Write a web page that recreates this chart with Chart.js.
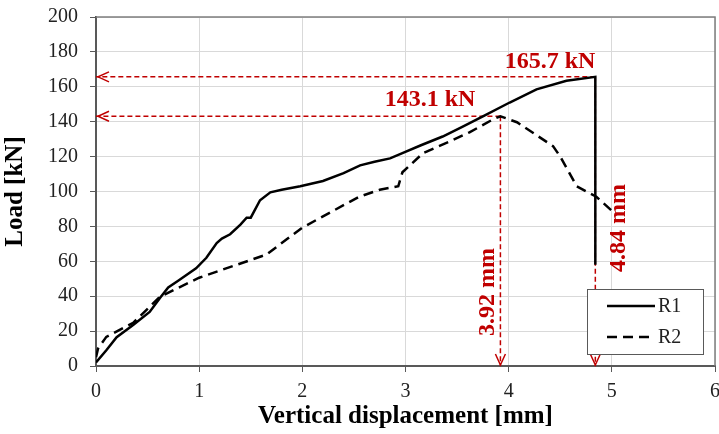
<!DOCTYPE html>
<html>
<head>
<meta charset="utf-8">
<script src="https://cdn.jsdelivr.net/npm/chart.js@4/dist/chart.umd.min.js"></script>
<style>
  html, body { margin: 0; padding: 0; background: #fff; }
  canvas { display: block; }
</style>
</head>
<body>
<canvas id="loadChart" width="719" height="434"></canvas>
<script>
// R1 curve (solid)
const r1X = [0, 0.1, 0.2, 0.36, 0.52, 0.62, 0.7, 0.8, 0.97, 1.07, 1.17, 1.22, 1.3, 1.4, 1.46, 1.5, 1.59, 1.69, 1.8, 1.98, 2.2, 2.4, 2.56, 2.7, 2.85, 2.97, 3.15, 3.36, 3.55, 3.75, 4.01, 4.27, 4.56, 4.84, 4.84];
const r1Y = [2, 9, 16.5, 23.5, 31, 39, 45, 49, 56, 62, 70.5, 73, 75.5, 81, 85, 85, 95, 99.5, 101, 103, 106, 110.5, 115, 117, 119, 122, 126.5, 131.5, 137, 143, 151, 158.5, 163.5, 165.7, 58];

// R2 curve (dashed)
const r2X = [0, 0.02, 0.1, 0.36, 0.62, 1.0, 1.65, 2.0, 2.55, 2.75, 2.93, 2.97, 3.17, 3.43, 3.62, 3.85, 3.92, 4.08, 4.43, 4.5, 4.66, 4.85, 5.0];
const r2Y = [5, 10, 16.7, 24.7, 39.7, 50.6, 63.8, 79.3, 97, 101, 103, 111, 122, 128.7, 133.9, 141.4, 143.1, 139.7, 126, 120, 103, 97, 89];

// peak annotations
const peakX = [3.92, 4.84];
const peakY = [143.1, 165.7];
const peakLoadLabels = ["143.1 kN", "165.7 kN"];
const peakDispLabels = ["3.92 mm", "4.84 mm"];

const xTicks = [0, 1, 2, 3, 4, 5, 6];
const yTicks = [0, 20, 40, 60, 80, 100, 120, 140, 160, 180, 200];

const FONT = '"Liberation Serif", "Times New Roman", serif';
const RED = "#c00000";

const toPoints = (xs, ys) => xs.map((x, i) => ({ x: x, y: ys[i] }));

// red dashed guide lines: horizontal to the y axis, vertical to the x axis
const guideSets = [];
peakX.forEach((px, i) => {
  guideSets.push({
    data: [{ x: px, y: peakY[i] }, { x: 0, y: peakY[i] }],
    borderColor: RED, borderWidth: 1.5, borderDash: [5, 3],
    pointRadius: 0, showLine: true, order: 5
  });
  guideSets.push({
    data: [{ x: px, y: peakY[i] }, { x: px, y: 0 }],
    borderColor: RED, borderWidth: 1.5, borderDash: [5, 3],
    pointRadius: 0, showLine: true, order: 5
  });
});

// arrows, labels, plot frame and legend
const annotate = {
  id: "annotate",
  afterDatasetsDraw(chart) {
    const ctx = chart.ctx;
    const xs = chart.scales.x, ys = chart.scales.y;
    const area = chart.chartArea;
    ctx.save();

    // frame top / right
    ctx.strokeStyle = "#7f7f7f";
    ctx.lineWidth = 1.5;
    ctx.beginPath();
    ctx.moveTo(area.left, area.top);
    ctx.lineTo(area.right, area.top);
    ctx.lineTo(area.right, area.bottom);
    ctx.stroke();

    // arrowheads
    ctx.strokeStyle = RED;
    ctx.lineWidth = 1.5;
    peakX.forEach((px, i) => {
      const x0 = xs.getPixelForValue(0) + 2;
      const yy = ys.getPixelForValue(peakY[i]);
      ctx.beginPath();
      ctx.moveTo(x0 + 11, yy - 5);
      ctx.lineTo(x0, yy);
      ctx.lineTo(x0 + 11, yy + 5);
      ctx.stroke();

      const xx = xs.getPixelForValue(px);
      const y0 = ys.getPixelForValue(0) - 1;
      ctx.beginPath();
      ctx.moveTo(xx - 5, y0 - 11);
      ctx.lineTo(xx, y0);
      ctx.lineTo(xx + 5, y0 - 11);
      ctx.stroke();
    });

    // labels
    ctx.fillStyle = RED;
    ctx.font = "bold 24px " + FONT;
    ctx.textBaseline = "alphabetic";
    ctx.textAlign = "right";
    const loadOffsets = [[-25, -10], [0, -9]];
    peakX.forEach((px, i) => {
      const xx = xs.getPixelForValue(px);
      const yy = ys.getPixelForValue(peakY[i]);
      ctx.fillText(peakLoadLabels[i], xx + loadOffsets[i][0], yy + loadOffsets[i][1]);
    });

    const dispCenters = [[-14, 292], [22, 228]];
    ctx.textAlign = "center";
    ctx.textBaseline = "middle";
    peakX.forEach((px, i) => {
      const xx = xs.getPixelForValue(px) + dispCenters[i][0];
      ctx.save();
      ctx.translate(xx, dispCenters[i][1]);
      ctx.rotate(-Math.PI / 2);
      ctx.fillText(peakDispLabels[i], 0, 1);
      ctx.restore();
    });

    // legend box
    ctx.fillStyle = "#fff";
    ctx.fillRect(587, 289, 116, 65);
    ctx.strokeStyle = "#595959";
    ctx.lineWidth = 1;
    ctx.strokeRect(587.5, 289.5, 116, 65);
    const entries = chart.data.datasets.slice(0, 2);
    entries.forEach((ds, i) => {
      const ly = 306 + i * 31;
      ctx.strokeStyle = "#000";
      ctx.lineWidth = 2.5;
      ctx.setLineDash(ds.borderDash || []);
      ctx.beginPath();
      ctx.moveTo(607, ly);
      ctx.lineTo(655, ly);
      ctx.stroke();
      ctx.setLineDash([]);
      ctx.fillStyle = "#222";
      ctx.font = "20px " + FONT;
      ctx.textAlign = "left";
      ctx.textBaseline = "middle";
      ctx.fillText(ds.label, 658, ly + 1);
    });

    ctx.restore();
  }
};

new Chart(document.getElementById("loadChart"), {
  type: "scatter",
  data: {
    datasets: [
      {
        label: "R1",
        data: toPoints(r1X, r1Y),
        borderColor: "#000", borderWidth: 2.5,
        pointRadius: 0, showLine: true, order: 1
      },
      {
        label: "R2",
        data: toPoints(r2X, r2Y),
        borderColor: "#000", borderWidth: 2.5, borderDash: [10, 6],
        pointRadius: 0, showLine: true, order: 2
      },
      ...guideSets
    ]
  },
  options: {
    responsive: false,
    devicePixelRatio: 1,
    animation: false,
    layout: { padding: { top: 17, right: 4, left: 0, bottom: 0 } },
    plugins: {
      legend: { display: false },
      tooltip: { enabled: false }
    },
    scales: {
      x: {
        type: "linear",
        min: 0, max: 6,
        afterFit: s => { s.height = 68; s.paddingLeft = 0; s.paddingRight = 0; },
        afterBuildTicks: s => { s.ticks = xTicks.map(v => ({ value: v })); },
        grid: { color: "#d9d9d9", lineWidth: 1, tickColor: "#595959", tickLength: 6 },
        border: { color: "#595959", width: 2 },
        ticks: { color: "#222", font: { family: FONT, size: 20 }, padding: 8, maxRotation: 0 },
        title: {
          display: true, text: "Vertical displacement [mm]", color: "#000",
          font: { family: FONT, size: 25, weight: "bold" }, padding: { top: 0, bottom: 2 }
        }
      },
      y: {
        min: 0, max: 200,
        afterFit: s => { s.width = 96; s.paddingTop = 0; s.paddingBottom = 0; },
        afterBuildTicks: s => { s.ticks = yTicks.map(v => ({ value: v })); },
        grid: { color: "#d9d9d9", lineWidth: 1, tickColor: "#595959", tickLength: 6 },
        border: { color: "#595959", width: 2 },
        ticks: { color: "#222", font: { family: FONT, size: 20 }, padding: 12 },
        title: {
          display: true, text: "Load [kN]", color: "#000",
          font: { family: FONT, size: 25, weight: "bold" }, padding: { top: 1, bottom: 0 }
        }
      }
    }
  },
  plugins: [annotate]
});
</script>
</body>
</html>
